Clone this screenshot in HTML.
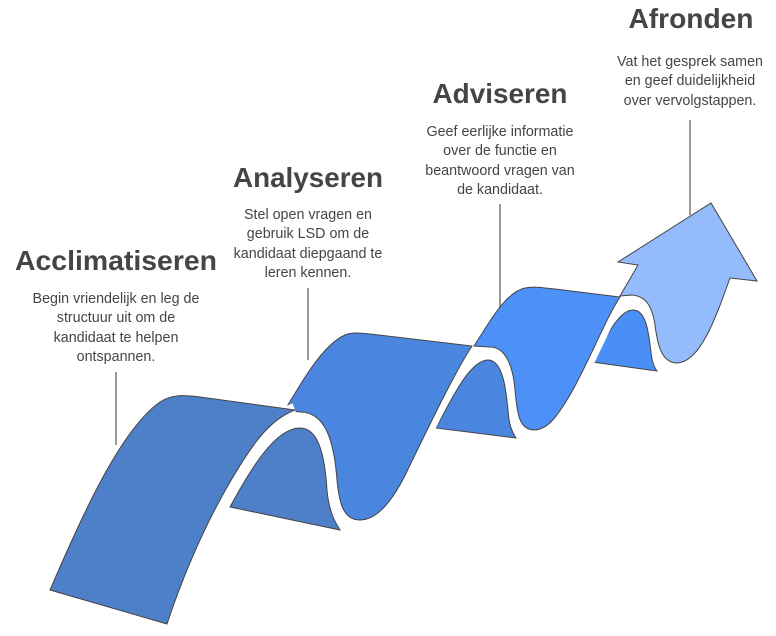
<!DOCTYPE html>
<html><head><meta charset="utf-8"><style>
html,body{margin:0;padding:0;background:#fff;}
svg{display:block;}
.t{font-family:"Liberation Sans",sans-serif;font-weight:bold;font-size:28px;fill:#454545;text-anchor:middle;}
.d{font-family:"Liberation Sans",sans-serif;font-size:14.3px;fill:#454545;text-anchor:middle;}
.w{fill:none;stroke:#fff;stroke-width:14;stroke-linecap:butt;}
</style></head><body>
<svg width="776" height="636" viewBox="0 0 776 636" xmlns="http://www.w3.org/2000/svg">
<defs>
<path id="aL" d="M677,363 C660,363 657,340 655,325 C652,305 645,296 632,295 L620,296"/>
<path id="s3R" d="M620,297 C605,320 590,360 570,395 C558,415 548,430 534,430"/>
<path id="s3L" d="M534,430 C518,430 517,410 515,390 C513,365 505,347 490,347 L474,346"/>
<path id="s2R" d="M472,346 C455,372 432,420 410,465 C395,498 378,520 360,520"/>
<path id="s2L" d="M360,520 C342,520 339,500 337,480 C334,440 325,412 300,412 L285,410"/>
<path id="s1R" d="M295,410 C268,420 250,448 230,482 C205,525 185,570 167,624"/>
</defs>
<g stroke="#9a9a9a" stroke-width="2">
<line x1="116" y1="372" x2="116" y2="445"/>
<line x1="308" y1="288" x2="308" y2="360"/>
<line x1="500" y1="204" x2="500" y2="310"/>
<line x1="690" y1="120" x2="690" y2="215"/>
</g>
<path d="M592,362 C605,340 618,310 633,310 C648,310 649,340 651,352 C652,362 654,367 657,371 Z" fill="#4a8ff5" stroke="#444"/>
<use href="#aL" class="w"/>
<path d="M620,296 L638,265 L618,262 L711,203 L757,281 L730,278 C715,320 700,362 677,363 C660,363 657,340 655,325 C652,305 645,296 632,295 Z" fill="#94bbfb" stroke="#444"/>
<use href="#s3R" class="w"/>
<path d="M436,428 C452,398 470,360 488,360 C503,360 506,390 508,410 C509,425 512,432 516,438 Z" fill="#4a86e0" stroke="#444"/>
<use href="#s3L" class="w"/>
<path d="M474,346 C488,325 505,292 525,288 C535,286 545,288 555,289 L620,297 C605,320 590,360 570,395 C558,415 548,430 534,430 C518,430 517,410 515,390 C513,365 505,347 490,347 Z" fill="#4d90f7" stroke="#444"/>
<use href="#s2R" class="w"/>
<path d="M230,507 C250,470 275,428 300,428 C320,428 325,460 327,490 C329,512 335,522 340,530 Z" fill="#4e7fc9" stroke="#444"/>
<use href="#s2L" class="w"/>
<path d="M285,410 C300,385 322,345 345,335 C352,332 360,333 370,334 L472,346 C455,372 432,420 410,465 C395,498 378,520 360,520 C342,520 339,500 337,480 C334,440 325,412 300,412 Z" fill="#4a86e0" stroke="#444"/>
<use href="#s1R" class="w"/>
<path d="M50,590 C80,520 120,430 160,402 C172,394 185,395 200,397 L295,410 C268,420 250,448 230,482 C205,525 185,570 167,624 Z" fill="#4e7fc9" stroke="#444"/>
<text class="t" x="116" y="270" textLength="202" lengthAdjust="spacingAndGlyphs">Acclimatiseren</text>
<text class="t" x="308" y="187" textLength="150" lengthAdjust="spacingAndGlyphs">Analyseren</text>
<text class="t" x="500" y="103" textLength="135" lengthAdjust="spacingAndGlyphs">Adviseren</text>
<text class="t" x="691" y="28" textLength="125" lengthAdjust="spacingAndGlyphs">Afronden</text>
<text class="d" x="116" y="303">Begin vriendelijk en leg de</text>
<text class="d" x="116" y="322">structuur uit om de</text>
<text class="d" x="116" y="342">kandidaat te helpen</text>
<text class="d" x="116" y="361">ontspannen.</text>
<text class="d" x="308" y="219">Stel open vragen en</text>
<text class="d" x="308" y="238">gebruik LSD om de</text>
<text class="d" x="308" y="258">kandidaat diepgaand te</text>
<text class="d" x="308" y="277">leren kennen.</text>
<text class="d" x="500" y="136">Geef eerlijke informatie</text>
<text class="d" x="500" y="155">over de functie en</text>
<text class="d" x="500" y="175">beantwoord vragen van</text>
<text class="d" x="500" y="194">de kandidaat.</text>
<text class="d" x="690" y="66">Vat het gesprek samen</text>
<text class="d" x="690" y="85">en geef duidelijkheid</text>
<text class="d" x="690" y="105">over vervolgstappen.</text>
</svg>
</body></html>
